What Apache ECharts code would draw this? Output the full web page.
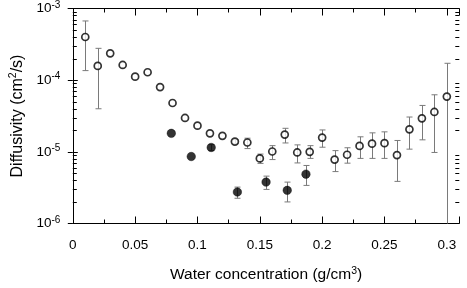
<!DOCTYPE html>
<html><head><meta charset="utf-8">
<script src="https://cdn.jsdelivr.net/npm/echarts@6/dist/echarts.min.js"></script>
<style>html,body{margin:0;padding:0;background:#fff}#c{width:467px;height:288px}</style>
</head><body><div id="c"></div>
<script>
// Open circles
const openX = [0.01,0.02,0.03,0.04,0.05,0.06,0.07,0.08,0.09,0.10,0.11,0.12,0.13,0.14,0.15,0.16,0.17,0.18,0.19,0.20,0.21,0.22,0.23,0.24,0.25,0.26,0.27,0.28,0.29,0.30];
const openY = [4.0e-4,1.58e-4,2.37e-4,1.63e-4,1.12e-4,1.29e-4,8.0e-5,4.8e-5,2.97e-5,2.32e-5,1.81e-5,1.67e-5,1.39e-5,1.35e-5,8.1e-6,1.01e-5,1.74e-5,9.8e-6,1.0e-5,1.58e-5,7.8e-6,9.1e-6,1.21e-5,1.30e-5,1.32e-5,9.0e-6,2.06e-5,2.93e-5,3.6e-5,5.9e-5];
const openHi = [6.7e-4,2.78e-4,null,null,null,null,null,null,null,null,null,null,1.48e-5,1.55e-5,9.3e-6,1.22e-5,2.13e-5,1.25e-5,1.22e-5,2.02e-5,1.04e-5,1.14e-5,1.62e-5,1.84e-5,1.90e-5,1.44e-5,3.06e-5,4.44e-5,6.25e-5,1.72e-4];
const openLo = [1.36e-4,3.99e-5,null,null,null,null,null,null,null,null,null,null,1.30e-5,1.11e-5,6.9e-6,7.8e-6,1.33e-5,7.0e-6,8.1e-6,1.16e-5,5.3e-6,6.95e-6,8.1e-6,8.1e-6,8.1e-6,3.87e-6,1.09e-5,1.47e-5,9.8e-6,5e-7];
// Filled circles
const filledX = [0.079,0.095,0.111,0.132,0.155,0.172,0.187];
const filledY = [1.81e-5,8.6e-6,1.15e-5,2.75e-6,3.78e-6,2.9e-6,4.88e-6];
const filledHi = [null,null,1.26e-5,3.22e-6,4.58e-6,3.78e-6,6.45e-6];
const filledLo = [null,null,1.04e-5,2.25e-6,2.99e-6,2.0e-6,3.4e-6];
// Axis ticks
const xMin = 0, xMax = 0.31, xInterval = 0.05;
const yMin = 1e-6, yMax = 1e-3;
const yMinorTicks = [];
[1e-6,1e-5,1e-4].forEach(d => { for (let k = 2; k <= 9; k++) yMinorTicks.push(d * k); });

const errData = [];
openX.forEach((x,i) => { if (openHi[i] != null) errData.push([x, openLo[i], openHi[i]]); });
filledX.forEach((x,i) => { if (filledHi[i] != null) errData.push([x, filledLo[i], filledHi[i]]); });

const chart = echarts.init(document.getElementById('c'), null, {renderer:'canvas'});
const FONT = '"Liberation Sans", Arial, sans-serif';
const yLabelFmt = v => { const e = Math.round(Math.log10(v)); return '{b|10}{s|' + e + '}'; };

chart.setOption({
  animation: false,
  backgroundColor: '#fff',
  grid: {left: 65.7, right: 7.7, top: 8.3, bottom: 63.7},
  xAxis: [{
    type: 'value', min: xMin, max: xMax, interval: xInterval, position: 'bottom',
    name: '{a|Water concentration (g/cm}{s|3}{a|)}', nameLocation: 'middle', nameGap: 42,
    nameTextStyle: {rich: {a:{fontFamily:FONT, fontSize:15.5, color:'#000'}, s:{fontSize:10.5, verticalAlign:'top', padding:[0,0,8,0], fontFamily:FONT, color:'#000'}}},
    axisLine: {show: true, lineStyle: {color:'#000', width:1}},
    axisTick: {show: true, inside: true, length: 7, lineStyle:{color:'#000'}},
    minorTick: {show: true, splitNumber: 2, length: 4, lineStyle:{color:'#000'}},
    splitLine: {show:false},
    axisLabel: {color:'#000', fontFamily: FONT, fontSize: 13.5, margin: 14.5, showMaxLabel: false,
      formatter: v => (Math.abs(v - xMax) < 1e-9 ? '' : String(+v.toFixed(3)))}
  },{
    type: 'value', min: xMin, max: xMax, interval: xInterval, position: 'top',
    axisLine: {show: true, lineStyle: {color:'#000', width:1}},
    axisTick: {show: true, inside: true, length: 7, lineStyle:{color:'#000'}},
    minorTick: {show: true, splitNumber: 2, length: 4, lineStyle:{color:'#000'}},
    splitLine: {show:false}, axisLabel: {show:false}
  }],
  yAxis: [{
    type: 'log', logBase: 10, min: yMin, max: yMax, position: 'left',
    name: '{a|Diffusivity (cm}{s|2}{a|/s)}', nameLocation: 'middle', nameGap: 45,
    nameTextStyle: {rich: {a:{fontFamily:FONT, fontSize:16, color:'#000'}, s:{fontFamily:FONT, fontSize:10.5, verticalAlign:'top', padding:[0,0,8,0], color:'#000'}}},
    axisLine: {show: true, lineStyle: {color:'#000', width:1}},
    axisTick: {show: true, inside: true, length: 5, lineStyle:{color:'#000'}},
    splitLine: {show:false},
    axisLabel: {formatter: yLabelFmt, margin: 12.5,
      rich: {b:{fontFamily:FONT, fontSize:13.5, color:'#000'}, s:{fontFamily:FONT, fontSize:10, color:'#000', verticalAlign:'top', padding:[0,0,7,0]}}}
  },{
    type: 'log', logBase: 10, min: yMin, max: yMax, position: 'right',
    axisLine: {show: true, lineStyle: {color:'#000', width:1}},
    axisTick: {show: true, inside: true, length: 5, lineStyle:{color:'#000'}},
    splitLine: {show:false}, axisLabel: {show:false}
  }],
  series: [
    {
      type: 'custom', name: 'minorY', xAxisIndex: 0, yAxisIndex: 0, silent: true, clip: false, z: 1,
      data: yMinorTicks.map(v => [xMin, v]),
      encode: {x: 0, y: 1},
      renderItem: (params, api) => {
        const cs = params.coordSys;
        const p = api.coord([api.value(0), api.value(1)]);
        const y = Math.round(p[1]) + 0.5;
        return {type:'group', children:[
          {type:'line', shape:{x1: cs.x, y1: y, x2: cs.x + 4, y2: y}, style:{stroke:'#000', lineWidth:1}},
          {type:'line', shape:{x1: cs.x + cs.width - 4, y1: y, x2: cs.x + cs.width, y2: y}, style:{stroke:'#000', lineWidth:1}}
        ]};
      }
    },
    {
      type: 'custom', name: 'errors', xAxisIndex: 0, yAxisIndex: 0, silent: true, clip: true, z: 2,
      data: errData,
      encode: {x: 0, y: [1, 2]},
      renderItem: (params, api) => {
        const x = api.value(0);
        const lo = api.coord([x, api.value(1)]);
        const hi = api.coord([x, api.value(2)]);
        const px = Math.round(lo[0]) + 0.5;
        const st = {stroke:'#7a7a7a', lineWidth:1};
        return {type:'group', children:[
          {type:'line', shape:{x1:px, y1:hi[1], x2:px, y2:lo[1]}, style:st},
          {type:'line', shape:{x1:px-3, y1:hi[1], x2:px+3, y2:hi[1]}, style:st},
          {type:'line', shape:{x1:px-3, y1:lo[1], x2:px+3, y2:lo[1]}, style:st}
        ]};
      }
    },
    {
      type: 'scatter', name: 'open', xAxisIndex: 0, yAxisIndex: 0, z: 3,
      data: openX.map((x,i) => [x, openY[i]]),
      symbol: 'circle', symbolSize: 7,
      itemStyle: {color:'#fff', borderColor:'#000', borderWidth:1.7}
    },
    {
      type: 'scatter', name: 'filled', xAxisIndex: 0, yAxisIndex: 0, z: 4,
      data: filledX.map((x,i) => [x, filledY[i]]),
      symbol: 'circle', symbolSize: 8.5,
      itemStyle: {color:'#000', borderColor:'#000', borderWidth:0.5}
    }
  ]
});
</script>
</body></html>
